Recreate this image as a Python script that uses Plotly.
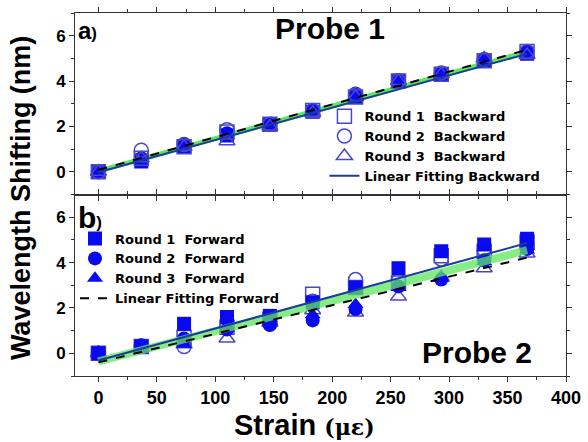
import plotly.graph_objects as go
from plotly.subplots import make_subplots

strain = [0, 36.7, 73.3, 110, 146.7, 183.3, 220, 256.7, 293.3, 330, 366.7]

# Probe 1 (top panel)
p1_fwd_r1 = [0.00, 0.45, 1.10, 1.60, 2.10, 2.65, 3.30, 4.00, 4.30, 4.90, 5.20]
p1_fwd_r2 = [0.00, 0.60, 1.20, 1.70, 2.10, 2.70, 3.45, 4.05, 4.35, 4.95, 5.30]
p1_fwd_r3 = [0.05, 0.50, 1.10, 1.60, 2.05, 2.70, 3.40, 4.05, 4.30, 5.00, 5.20]
p1_bwd_r1 = [0.00, 0.60, 1.10, 1.75, 2.10, 2.70, 3.30, 4.00, 4.30, 4.90, 5.30]
p1_bwd_r2 = [0.00, 0.95, 1.20, 1.85, 2.10, 2.70, 3.40, 4.00, 4.35, 4.95, 5.30]
p1_bwd_r3 = [0.00, 0.60, 1.10, 1.35, 2.00, 2.60, 3.30, 4.00, 4.30, 5.00, 5.15]

# Probe 2 (bottom panel)
p2_fwd_r1 = [0.00, 0.30, 1.30, 1.60, 1.65, 2.25, 2.90, 3.75, 4.50, 4.80, 5.05]
p2_fwd_r2 = [0.00, 0.35, 0.65, 1.05, 1.25, 1.45, 1.95, 2.95, 3.25, 4.10, 4.60]
p2_fwd_r3 = [0.05, 0.30, 0.40, 1.10, 1.40, 1.70, 2.15, 2.90, 3.30, 4.05, 4.55]
p2_bwd_r1 = [0.00, 0.30, 0.70, 1.15, 1.50, 2.60, 2.90, 3.10, 4.30, 4.50, 4.90]
p2_bwd_r2 = [0.00, 0.30, 0.30, 1.15, 1.30, 2.30, 3.25, 3.20, 4.15, 4.55, 4.70]
p2_bwd_r3 = [0.00, 0.25, 0.40, 0.65, 1.35, 1.90, 1.80, 2.50, 3.35, 3.75, 4.40]

# Linear fit end points
fit_x = [0, 366.7]
p1_fit_bwd = [-0.02, 5.20]
p1_fit_fwd = [0.08, 5.38]
p1_fit_band = [0.03, 5.29]
p2_fit_bwd = [-0.32, 4.86]
p2_fit_fwd = [-0.40, 4.22]
p2_fit_band = [-0.36, 4.55]

x_ticks = [0, 50, 100, 150, 200, 250, 300, 350, 400]
y_ticks = [0, 2, 4, 6]

BLUE = "#0a0af0"
OPEN = "#4848c8"
FITBLUE = "#1c3c9c"
GREEN = "#5ee85e"
SANS = "Liberation Sans, Arial"

fig = make_subplots(rows=2, cols=1, shared_xaxes=True, vertical_spacing=0)

sym_f = ["square", "circle", "triangle-up"]
sym_b = ["square-open", "circle-open", "triangle-up-open"]
names_f = ["Round 1  Forward", "Round 2  Forward", "Round 3  Forward"]
names_b = ["Round 1  Backward", "Round 2  Backward", "Round 3  Backward"]
MS = 14

# ---- top panel ----
fig.add_trace(go.Scatter(x=fit_x, y=p1_fit_band, mode="lines", line=dict(color=GREEN, width=5),
                         showlegend=False, hoverinfo="skip"), row=1, col=1)
for ys, s in zip([p1_fwd_r1, p1_fwd_r2, p1_fwd_r3], sym_f):
    fig.add_trace(go.Scatter(x=strain, y=ys, mode="markers",
                             marker=dict(symbol=s, size=MS, color=BLUE),
                             showlegend=False), row=1, col=1)
for ys, s, n in zip([p1_bwd_r1, p1_bwd_r2, p1_bwd_r3], sym_b, names_b):
    fig.add_trace(go.Scatter(x=strain, y=ys, mode="markers", name=n,
                             marker=dict(symbol=s, size=MS, color=OPEN, line=dict(width=1.5, color=OPEN)),
                             legend="legend"), row=1, col=1)
fig.add_trace(go.Scatter(x=fit_x, y=p1_fit_fwd, mode="lines", line=dict(color="black", width=2, dash="dash"),
                         showlegend=False), row=1, col=1)
fig.add_trace(go.Scatter(x=fit_x, y=p1_fit_bwd, mode="lines", name="Linear Fitting Backward",
                         line=dict(color=FITBLUE, width=2), legend="legend"), row=1, col=1)

# ---- bottom panel ----
for ys, s in zip([p2_bwd_r1, p2_bwd_r2, p2_bwd_r3], sym_b):
    fig.add_trace(go.Scatter(x=strain, y=ys, mode="markers",
                             marker=dict(symbol=s, size=MS, color=OPEN, line=dict(width=1.5, color=OPEN)),
                             showlegend=False), row=2, col=1)
for ys, s, n in zip([p2_fwd_r1, p2_fwd_r2, p2_fwd_r3], sym_f, names_f):
    fig.add_trace(go.Scatter(x=strain, y=ys, mode="markers", name=n,
                             marker=dict(symbol=s, size=MS, color=BLUE),
                             legend="legend2"), row=2, col=1)
fig.add_trace(go.Scatter(x=fit_x, y=p2_fit_band, mode="lines", line=dict(color=GREEN, width=8),
                         opacity=0.75, showlegend=False, hoverinfo="skip"), row=2, col=1)
fig.add_trace(go.Scatter(x=fit_x, y=p2_fit_fwd, mode="lines", name="Linear Fitting Forward",
                         line=dict(color="black", width=2, dash="dash"), legend="legend2"), row=2, col=1)
fig.add_trace(go.Scatter(x=fit_x, y=p2_fit_bwd, mode="lines", line=dict(color=FITBLUE, width=2),
                         showlegend=False), row=2, col=1)

axis_common = dict(showline=True, linecolor="#333", linewidth=1, mirror="ticks", ticks="outside",
                   ticklen=5, tickcolor="#333", showgrid=False, zeroline=False)

fig.update_xaxes(range=[-20, 400], tickvals=x_ticks,
                 minor=dict(ticks="outside", ticklen=3, dtick=25, tick0=0, tickcolor="#333"),
                 tickfont=dict(family=SANS, size=18, color="black", weight="bold"), **axis_common)
fig.update_xaxes(showticklabels=False, row=1, col=1)
fig.update_yaxes(range=[-1, 7], tickvals=y_ticks,
                 minor=dict(ticks="outside", ticklen=3, dtick=1, tick0=0, tickcolor="#333"),
                 tickfont=dict(family=SANS, size=17, color="black", weight="bold"), **axis_common)

lfont = dict(family="DejaVu Sans", size=13, color="black", weight="bold")
fig.update_layout(
    width=588, height=442,
    margin=dict(l=75, r=20, t=7, b=66),
    paper_bgcolor="white", plot_bgcolor="white",
    legend=dict(x=0.508, y=0.757, xanchor="left", yanchor="top", font=lfont, bgcolor="rgba(0,0,0,0)",
                tracegroupgap=0, itemwidth=30),
    legend2=dict(x=0.0, y=0.42, xanchor="left", yanchor="top", font=lfont, bgcolor="rgba(0,0,0,0)",
                 tracegroupgap=0, itemwidth=30),
)

ann_font = dict(family=SANS, size=30, color="black", weight="bold")
fig.add_annotation(text="Probe 1", x=198, y=6.3, xref="x", yref="y", showarrow=False, font=ann_font)
fig.add_annotation(text="Probe 2", x=324, y=0.05, xref="x2", yref="y2", showarrow=False, font=ann_font)
fig.add_annotation(text="a<span style='font-size:17px'>)</span>", x=-19, y=6.25, xref="x", yref="y",
                   xanchor="left", showarrow=False, font=dict(family=SANS, size=24, color="black", weight="bold"))
fig.add_annotation(text="b<span style='font-size:17px'>)</span>", x=-19, y=6.0, xref="x2", yref="y2",
                   xanchor="left", showarrow=False, font=dict(family=SANS, size=30, color="black", weight="bold"))
fig.add_annotation(text="Wavelength Shifting (nm)", x=-0.11, y=0.49, xref="paper", yref="paper",
                   textangle=-90, showarrow=False, xanchor="center", yanchor="middle",
                   font=dict(family=SANS, size=27, color="black", weight="bold"))
fig.add_annotation(text="<b>Strain</b> <span style='font-family:DejaVu Serif;font-size:22px'><b>(με)</b></span>",
                   x=0.4665, y=-0.135, xref="paper", yref="paper", showarrow=False,
                   xanchor="center", yanchor="middle", font=dict(family=SANS, size=29, color="black"))

fig.write_html("out.html")
